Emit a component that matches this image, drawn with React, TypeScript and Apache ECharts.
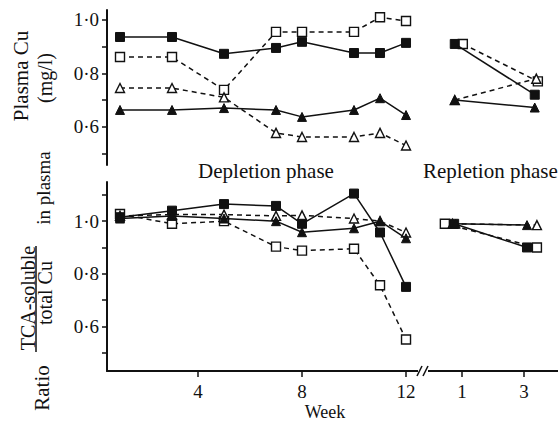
import React, { useEffect, useRef } from "react";
import * as echarts from "echarts";

// Depletion phase weeks
const depWeeks = [1, 3, 5, 7, 8, 10, 11, 12];

// Plasma Cu (mg/l), depletion phase
const cuFilledSq = [0.936, 0.936, 0.873, 0.895, 0.918, 0.876, 0.876, 0.914];
const cuOpenSq = [0.861, 0.861, 0.738, 0.955, 0.955, 0.955, 1.01, 0.996];
const cuOpenTri = [0.745, 0.745, 0.71, 0.577, 0.562, 0.562, 0.577, 0.53];
const cuFilledTri = [0.663, 0.663, 0.67, 0.663, 0.637, 0.663, 0.707, 0.644];

// Plasma Cu, repletion phase (weeks as plotted, slightly offset in the original)
const repCuFilledSqX = [0.77, 3.35];
const repCuFilledSq = [0.91, 0.72];
const repCuOpenSqX = [1.03, 3.45];
const repCuOpenSq = [0.91, 0.77];
const repCuOpenTriX = [0.77, 3.4];
const repCuOpenTri = [0.7, 0.78];
const repCuFilledTriX = [0.77, 3.35];
const repCuFilledTri = [0.7, 0.672];

// Ratio TCA-soluble / total Cu, depletion phase
const ratFilledSq = [1.015, 1.04, 1.065, 1.058, 0.99, 1.105, 0.957, 0.75];
const ratOpenSq = [1.027, 0.99, 1.0, 0.903, 0.888, 0.895, 0.756, 0.55];
const ratFilledTri = [1.01, 1.02, 1.01, 1.0, 0.958, 0.973, 1.0, 0.935];
const ratOpenTri = [1.02, 1.025, 1.025, 1.02, 1.022, 1.01, 1.0, 0.957];

// Ratio, repletion phase
const repRatFilledSqX = [0.75, 3.1];
const repRatFilledSq = [0.99, 0.9];
const repRatOpenSqX = [0.45, 3.42];
const repRatOpenSq = [0.99, 0.9];
const repRatFilledTriX = [0.8, 3.1];
const repRatFilledTri = [0.99, 0.985];
const repRatOpenTriX = [0.7, 3.42];
const repRatOpenTri = [0.99, 0.985];

// Tick labels
const depTicks = [4, 8, 12];
const repTicks = [1, 3];
const cuTicks = [0.5, 0.6, 0.7, 0.8, 0.9, 1.0];
const cuLabels = [0.6, 0.8, 1.0];
const ratTicks = [0.5, 0.6, 0.7, 0.8, 0.9, 1.0, 1.1];
const ratLabels = [0.6, 0.8, 1.0];

const FONT = "Liberation Serif";

const zip = (xs: number[], ys: number[]) => xs.map((x, i) => [x, ys[i]]);

type Kind = "filledSq" | "openSq" | "filledTri" | "openTri";

function mk(kind: Kind, data: number[][], idx: number) {
  const filled = kind === "filledSq" || kind === "filledTri";
  const sq = kind === "filledSq" || kind === "openSq";
  return {
    type: "line",
    xAxisIndex: idx,
    yAxisIndex: idx,
    data,
    symbol: sq ? "rect" : "triangle",
    symbolSize: 9,
    showAllSymbol: true,
    lineStyle: {
      color: "#111",
      width: 1.5,
      type: filled ? "solid" : [5, 4],
    },
    itemStyle: {
      color: filled ? "#111" : "#fff",
      borderColor: "#111",
      borderWidth: filled ? 1 : 1.4,
    },
    z: filled ? 3 : 2,
    silent: true,
  };
}

const fmt = (v: number) => v.toFixed(1).replace(".", "·");

const vtext = (text: string, x: number, y: number, size: number) => ({
  type: "text",
  x,
  y,
  rotation: Math.PI / 2,
  style: { text, font: `${size}px '${FONT}'`, fill: "#111", align: "center", verticalAlign: "middle" },
});

export default function App() {
  const ref = useRef<HTMLDivElement>(null);
  useEffect(() => {
    if (!ref.current) return;
    const chart = echarts.init(ref.current, null, { renderer: "svg" });
    const labelStyle = { fontFamily: FONT, fontSize: 19, color: "#111" };
    const yAxisCommon = (min: number, max: number, grid: number, ticks: number[], labels: number[], show: boolean) => ({
      type: "value",
      gridIndex: grid,
      min,
      max,
      show,
      axisLine: { show: true, lineStyle: { color: "#111", width: 2 } },
      axisTick: { show: true, customValues: ticks, length: 5, lineStyle: { color: "#111", width: 1.5 } },
      axisLabel: { customValues: labels, formatter: fmt, margin: 8, ...labelStyle },
      splitLine: { show: false },
    });
    const xAxisCommon = (min: number, max: number, grid: number, ticks: number[], show: boolean) => ({
      type: "value",
      gridIndex: grid,
      min,
      max,
      show,
      axisLine: { show: true, onZero: false, lineStyle: { color: "#111", width: 2 } },
      axisTick: { show: true, customValues: ticks, length: 6, lineStyle: { color: "#111", width: 1.5 } },
      axisLabel: { customValues: ticks, formatter: (v: number) => String(v), margin: 11, ...labelStyle },
      splitLine: { show: false },
    });

    const option: any = {
      animation: false,
      backgroundColor: "#fff",
      grid: [
        { left: 107, top: 10, width: 318, height: 155 },
        { left: 425, top: 10, width: 133, height: 155 },
        { left: 107, top: 182, width: 318, height: 189 },
        { left: 425, top: 182, width: 133, height: 189 },
      ],
      xAxis: [
        xAxisCommon(0.5, 12.73, 0, depTicks, false),
        xAxisCommon(-0.19, 4.1, 1, repTicks, false),
        xAxisCommon(0.5, 12.73, 2, depTicks, true),
        xAxisCommon(-0.19, 4.1, 3, repTicks, true),
      ],
      yAxis: [
        yAxisCommon(0.457, 1.037, 0, cuTicks, cuLabels, true),
        yAxisCommon(0.457, 1.037, 1, cuTicks, cuLabels, false),
        yAxisCommon(0.43, 1.149, 2, ratTicks, ratLabels, true),
        yAxisCommon(0.43, 1.149, 3, ratTicks, ratLabels, false),
      ],
      series: [
        mk("openSq", zip(depWeeks, cuOpenSq), 0),
        mk("openTri", zip(depWeeks, cuOpenTri), 0),
        mk("filledSq", zip(depWeeks, cuFilledSq), 0),
        mk("filledTri", zip(depWeeks, cuFilledTri), 0),
        mk("openSq", zip(repCuOpenSqX, repCuOpenSq), 1),
        mk("openTri", zip(repCuOpenTriX, repCuOpenTri), 1),
        mk("filledSq", zip(repCuFilledSqX, repCuFilledSq), 1),
        mk("filledTri", zip(repCuFilledTriX, repCuFilledTri), 1),
        mk("openSq", zip(depWeeks, ratOpenSq), 2),
        mk("openTri", zip(depWeeks, ratOpenTri), 2),
        mk("filledSq", zip(depWeeks, ratFilledSq), 2),
        mk("filledTri", zip(depWeeks, ratFilledTri), 2),
        mk("openSq", zip(repRatOpenSqX, repRatOpenSq), 3),
        mk("openTri", zip(repRatOpenTriX, repRatOpenTri), 3),
        mk("filledSq", zip(repRatFilledSqX, repRatFilledSq), 3),
        mk("filledTri", zip(repRatFilledTriX, repRatFilledTri), 3),
      ],
      graphic: [
        { type: "text", x: 266, y: 171, style: { text: "Depletion phase", font: `21px '${FONT}'`, fill: "#111", align: "center", verticalAlign: "middle" } },
        { type: "text", x: 423, y: 171, style: { text: "Repletion phase", font: `21px '${FONT}'`, fill: "#111", align: "left", verticalAlign: "middle" } },
        { type: "text", x: 325, y: 412, style: { text: "Week", font: `18px '${FONT}'`, fill: "#111", align: "center", verticalAlign: "middle" } },
        vtext("Plasma Cu", 21, 76, 21),
        vtext("(mg/l)", 45, 78, 20),
        vtext("Ratio", 42, 388, 21),
        vtext("TCA-soluble", 28, 298, 20),
        { type: "line", shape: { x1: 36, y1: 246, x2: 36, y2: 352 }, style: { stroke: "#111", lineWidth: 1.5 } },
        vtext("total Cu", 45, 293, 20),
        vtext("in plasma", 43, 188, 19),
        { type: "rect", shape: { x: 418, y: 368, width: 10, height: 6 }, style: { fill: "#fff" }, z: 10 },
        { type: "line", shape: { x1: 417, y1: 376, x2: 422, y2: 366 }, style: { stroke: "#111", lineWidth: 1.5 }, z: 11 },
        { type: "line", shape: { x1: 423, y1: 376, x2: 428, y2: 366 }, style: { stroke: "#111", lineWidth: 1.5 }, z: 11 },
      ],
    };
    chart.setOption(option);
    return () => chart.dispose();
  }, []);
  return (
    <div
      ref={ref}
      style={{ position: "fixed", left: 0, top: 0, width: 558, height: 428, background: "#fff" }}
    />
  );
}
